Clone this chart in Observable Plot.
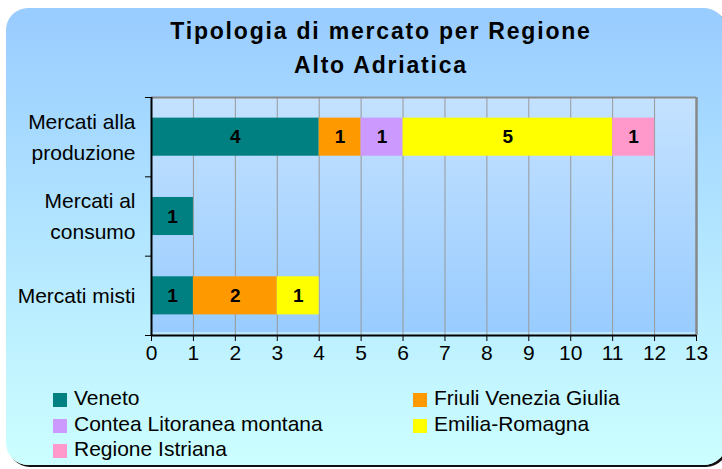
<!DOCTYPE html>
<html><head><meta charset="utf-8">
<script src="https://cdn.jsdelivr.net/npm/d3@7"></script>
<script src="https://cdn.jsdelivr.net/npm/@observablehq/plot@0.6"></script>
<style>
body{margin:0;width:722px;height:469px;overflow:hidden;background:#fff;font-family:"Liberation Sans",Arial,sans-serif;position:relative;}
#box{position:absolute;left:6px;top:8px;width:720px;height:457px;border-radius:22px;background:linear-gradient(#99ccff,#ccffff);box-shadow:2px 2px 0 #111;}
#chart{position:absolute;left:0;top:0;}
#title{position:absolute;left:0;width:762px;top:13.5px;text-align:center;font-weight:bold;font-size:23px;line-height:34px;letter-spacing:1.8px;color:#000;}
.sw{position:absolute;width:14px;height:14px;}
.lt{position:absolute;font-size:21px;line-height:24px;color:#000;white-space:nowrap;}
</style></head>
<body>
<div id="box"></div>
<div id="title">Tipologia di mercato per Regione<br>Alto Adriatica</div>
<div id="chart"></div>
<div id="legend"></div>
<script>
const categories = ["Mercati alla produzione", "Mercati al consumo", "Mercati misti"];
const categoryLabels = ["Mercati alla\nproduzione", "Mercati al\nconsumo", "Mercati misti"];
const regions = ["Veneto", "Friuli Venezia Giulia", "Contea Litoranea montana", "Emilia-Romagna", "Regione Istriana"];
const colors = ["#008080", "#ff9900", "#cc99ff", "#ffff00", "#ff99cc"];
const veneto = [4, 1, 1];
const friuli = [1, 0, 2];
const contea = [1, 0, 0];
const emilia = [5, 0, 1];
const istriana = [1, 0, 0];
const xTicks = [0, 1, 2, 3, 4, 5, 6, 7, 8, 9, 10, 11, 12, 13];

const series = [veneto, friuli, contea, emilia, istriana];
const rows = [];
categories.forEach((c, i) => {
  let acc = 0;
  series.forEach((s, j) => {
    const v = s[i];
    if (v > 0) {
      rows.push({cat: c, idx: i, region: regions[j], value: v, x1: acc, x2: acc + v});
      acc += v;
    }
  });
});
const catRows = categories.map((c, i) => ({cat: c, label: categoryLabels[i], idx: i}));
const half = 0.24;

const plot = Plot.plot({
  width: 722,
  height: 469,
  marginLeft: 151,
  marginRight: 26,
  marginTop: 97,
  marginBottom: 134,
  style: {background: "transparent", color: "black", fontFamily: "'Liberation Sans', Arial, sans-serif", fontSize: "21px"},
  x: {domain: [0, 13], axis: null},
  y: {domain: [0, 3], reverse: true, axis: null},
  color: {domain: regions, range: colors},
  marks: [
    Plot.frame({fill: "url(#plotGrad)", stroke: null}),
    Plot.gridX(xTicks.slice(1, -1), {stroke: "#999", strokeOpacity: 1}),
    Plot.rect(rows, {x1: "x1", x2: "x2", y1: d => d.idx + 0.5 - half, y2: d => d.idx + 0.5 + half, fill: "region"}),
    Plot.text(rows, {x: d => (d.x1 + d.x2) / 2, y: d => d.idx + 0.5, text: d => String(d.value), fontWeight: "bold", fontSize: 19, fill: "black"}),
    Plot.ruleY([0], {stroke: "#888", strokeWidth: 2}),
    Plot.ruleX([13], {stroke: "#888", strokeWidth: 2.5}),
    Plot.ruleX([0], {stroke: "black", strokeWidth: 2}),
    Plot.ruleY([3], {stroke: "black", strokeWidth: 2}),
    Plot.axisX(xTicks, {anchor: "bottom", tickSize: 6, tickPadding: 4, fontSize: 21, stroke: "black", fill: "black"}),
    Plot.axisY([0, 1, 2, 3], {anchor: "left", tickSize: 6, tickFormat: () => "", stroke: "black"}),
    Plot.text(catRows, {y: d => d.idx + 0.5, text: "label", frameAnchor: "left", textAnchor: "end", dx: -16, dy: -3, fontSize: 21, lineHeight: 1.5, fill: "black"})
  ]
});

const svg = d3.select(plot);
const defs = svg.insert("defs", ":first-child");
const g = defs.append("linearGradient").attr("id", "plotGrad").attr("x1", 0).attr("y1", 0).attr("x2", 0).attr("y2", 1);
g.append("stop").attr("offset", "0%").attr("stop-color", "#c4e2ff");
g.append("stop").attr("offset", "98.6%").attr("stop-color", "#99ccff");
g.append("stop").attr("offset", "98.7%").attr("stop-color", "#bfe6ff");
g.append("stop").attr("offset", "100%").attr("stop-color", "#bfe6ff");
document.getElementById("chart").appendChild(plot);

const legend = document.getElementById("legend");
regions.forEach((r, i) => {
  const col = i % 2, row = Math.floor(i / 2);
  const left = col === 0 ? 53 : 413;
  const top = 393 + row * 25.5;
  const sw = document.createElement("div");
  sw.className = "sw";
  sw.style.left = left + "px";
  sw.style.top = top + "px";
  sw.style.background = colors[i];
  legend.appendChild(sw);
  const t = document.createElement("div");
  t.className = "lt";
  t.style.left = (left + 21) + "px";
  t.style.top = (top - 7) + "px";
  t.textContent = r;
  legend.appendChild(t);
});
</script>
</body></html>
